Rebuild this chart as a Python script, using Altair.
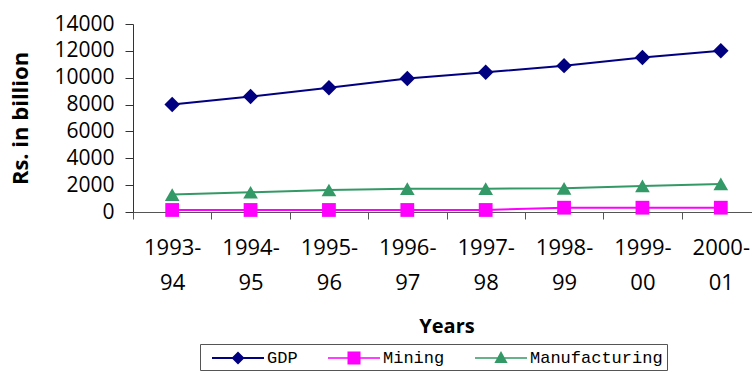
import altair as alt
import pandas as pd

# Sector output by fiscal year, Rs. in billion
years = ["1993-94", "1994-95", "1995-96", "1996-97",
         "1997-98", "1998-99", "1999-00", "2000-01"]
gdp = [8000, 8600, 9250, 9950, 10400, 10900, 11500, 12000]
mining = [150, 150, 150, 150, 150, 320, 320, 320]
manufacturing = [1300, 1470, 1640, 1740, 1740, 1760, 1940, 2090]

series = ["GDP", "Mining", "Manufacturing"]
colors = ["#000080", "#FF00FF", "#339966"]
marker_shapes = ["diamond", "square", "triangle-up"]
marker_sizes = [240, 190, 215]

# Legend symbols: a horizontal line segment with the series marker on it
# (one path unit = 10 px at symbolSize 400)
legend_paths = [
    "M-2.6,-0.1H2.6V0.1H-2.6Z M0,-0.65L0.65,0L0,0.65L-0.65,0Z",
    "M-2.6,-0.08H2.6V0.08H-2.6Z M-0.65,-0.65H0.65V0.65H-0.65Z",
    "M-2.6,-0.08H2.6V0.08H-2.6Z M0,-0.7L0.66,0.5L-0.66,0.5Z",
]

rows = []
for name, vals in zip(series, [gdp, mining, manufacturing]):
    for yr, v in zip(years, vals):
        rows.append({"Year": yr, "Value": v, "Series": name})
df = pd.DataFrame(rows)

FONT = "Open Sans"

x_enc = alt.X(
    "Year:N",
    sort=years,
    scale=alt.Scale(domain=years, range=[0, 627]),
    axis=alt.Axis(
        title="Years",
        labelAngle=0,
        labelExpr="[slice(datum.label, 0, 5), slice(datum.label, 5)]",
        labelFont=FONT,
        labelFontSize=22,
        labelColor="#000000",
        labelLineHeight=35,
        labelPadding=18,
        labelBaseline="top",
        tickBand="extent",
        tickSize=7,
        tickColor="#555555",
        domainColor="#555555",
        titleFont=FONT,
        titleFontSize=20,
        titleFontWeight="bold",
        titleColor="#000000",
        titlePadding=23,
        grid=False,
    ),
)
y_enc = alt.Y(
    "Value:Q",
    scale=alt.Scale(domain=[0, 14000], nice=False),
    axis=alt.Axis(
        title="Rs. in billion",
        values=list(range(0, 14001, 2000)),
        format="d",
        labelFont=FONT,
        labelFontSize=21,
        labelColor="#000000",
        labelPadding=11,
        tickSize=8,
        tickColor="#333333",
        domainColor="#333333",
        titleFont=FONT,
        titleFontSize=22,
        titleFontWeight="bold",
        titleColor="#000000",
        titlePadding=21,
        grid=False,
    ),
)

layers = []
# One line and one marker layer per series
for name, col, shp, sz in zip(series, colors, marker_shapes, marker_sizes):
    base = alt.Chart(df).transform_filter(alt.datum.Series == name)
    layers.append(base.mark_line(strokeWidth=2, color=col).encode(x=x_enc, y=y_enc))
    layers.append(
        base.mark_point(filled=True, shape=shp, size=sz, opacity=1, color=col)
        .encode(x=x_enc, y=y_enc)
    )

legend_props = dict(
    orient="none",
    legendX=67,
    legendY=320,
    direction="horizontal",
    title=None,
    strokeColor="#555555",
    padding=4,
    labelFont="Liberation Mono",
    labelFontSize=17,
    labelColor="#000000",
    labelOffset=19,
    symbolOffset=24,
    columnPadding=22,
    symbolSize=400,
    symbolStrokeWidth=0,
    symbolOpacity=1,
)

# Layer with no rows that only carries the legend
legend_layer = (
    alt.Chart(df)
    .transform_filter("false")
    .mark_point(filled=True, size=400)
    .encode(
        x=x_enc,
        y=y_enc,
        color=alt.Color(
            "Series:N",
            scale=alt.Scale(domain=series, range=colors),
            legend=alt.Legend(**legend_props),
        ),
        shape=alt.Shape(
            "Series:N",
            scale=alt.Scale(domain=series, range=legend_paths),
            legend=alt.Legend(**legend_props),
        ),
    )
)
layers.append(legend_layer)

chart = (
    alt.layer(*layers)
    .properties(
        width=619,
        height=188,
        autosize=alt.AutoSizeParams(type="none"),
        padding={"left": 133, "top": 24, "right": 0, "bottom": 166},
        background="#ffffff",
    )
    .configure_view(stroke=None)
)

chart.save("out.html", embed_options={"renderer": "svg", "actions": False})
